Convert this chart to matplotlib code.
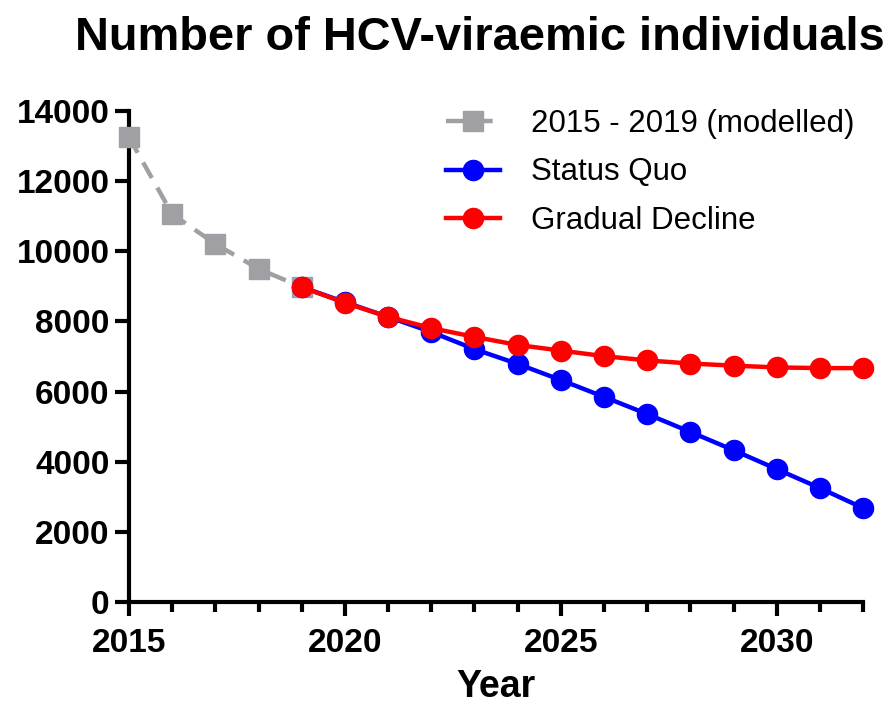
import numpy as np
import matplotlib.pyplot as plt
from matplotlib.ticker import MultipleLocator

years_model = [2015, 2016, 2017, 2018, 2019]
modelled = [13250, 11060, 10210, 9500, 8980]

years_proj = list(range(2019, 2033))
status_quo = [8980, 8550, 8130, 7700, 7210, 6790, 6330, 5850, 5360, 4850, 4330, 3790, 3250, 2680]
gradual = [8980, 8530, 8130, 7810, 7560, 7330, 7170, 7010, 6890, 6800, 6740, 6690, 6670, 6670]

plt.rcParams['font.family'] = ['Liberation Sans', 'DejaVu Sans']

fig = plt.figure(figsize=(8.92, 7.10), dpi=100)
ax = fig.add_axes([0.1446, 0.152, 0.823, 0.6917])

ax.plot(years_model, modelled, '--s', color='#a0a0a4', lw=3.2, ms=14.5,
        dashes=(4, 2.5), clip_on=False, zorder=3, label='2015 - 2019 (modelled)')
ax.plot(years_proj, status_quo, '-o', color='#0000ff', lw=3.2, ms=14.5,
        clip_on=False, zorder=4, label='Status Quo')
ax.plot(years_proj, gradual, '-o', color='#ff0000', lw=3.2, ms=14.5,
        clip_on=False, zorder=5, label='Gradual Decline')

ax.set_xlim(2015, 2032)
ax.set_ylim(0, 14000)
ax.set_xticks([2015, 2020, 2025, 2030])
ax.xaxis.set_minor_locator(MultipleLocator(1))
ax.set_yticks(np.arange(0, 14001, 2000))

for s in ['top', 'right']:
    ax.spines[s].set_visible(False)
for s in ['left', 'bottom']:
    ax.spines[s].set_linewidth(3)
ax.tick_params(axis='both', which='major', width=3, length=10, labelsize=24, pad=4)
ax.tick_params(axis='x', which='major', pad=9)
ax.tick_params(axis='x', which='minor', width=3, length=7)
for lab in ax.get_xticklabels() + ax.get_yticklabels():
    lab.set_fontweight('bold')

ax.set_xlabel('Year', fontsize=27, fontweight='bold', labelpad=7)
fig.text(0.538, 0.93, 'Number of HCV-viraemic individuals', fontsize=33.8,
         fontweight='bold', ha='center', va='baseline')

ax.legend(loc='upper right', bbox_to_anchor=(1.005, 1.03), frameon=False, fontsize=22.5,
          handlelength=1.7, handletextpad=1.0, labelspacing=0.6, borderaxespad=0)

fig.savefig('out.png', dpi=100)
